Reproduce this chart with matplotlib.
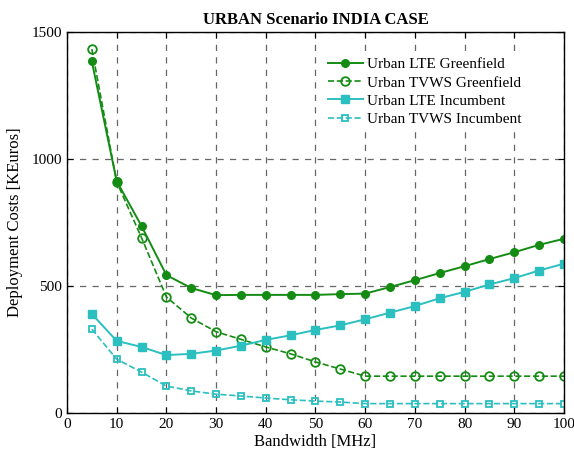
import matplotlib
matplotlib.use("Agg")
import matplotlib.pyplot as plt

bandwidth = [5, 10, 15, 20, 25, 30, 35, 40, 45, 50, 55, 60, 65, 70, 75, 80, 85, 90, 95, 100]

lte_greenfield = [1384, 913, 736, 543, 492, 464, 465, 465, 465, 465, 468, 470,
                  496, 523, 551, 578, 606, 633, 662, 686]
tvws_greenfield = [1433, 910, 690, 457, 374, 320, 290, 260, 233, 201, 173, 145,
                   145, 145, 145, 145, 145, 145, 145, 145]
lte_incumbent = [390, 284, 260, 228, 233, 246, 265, 288, 306, 327, 345, 369,
                 395, 421, 452, 477, 506, 531, 561, 588]
tvws_incumbent = [330, 212, 161, 106, 87, 74, 67, 59, 52, 47, 43, 37,
                  37, 37, 37, 37, 37, 37, 37, 37]

green = "#148c14"
cyan = "#2bbfbf"

plt.rcParams["font.family"] = ["Liberation Serif", "DejaVu Serif"]
plt.rcParams["mathtext.fontset"] = "stix"

fig = plt.figure(figsize=(5.74, 4.54), dpi=100)
ax = fig.add_axes([0.1167, 0.0903, 0.8659, 0.8392])

ax.plot(bandwidth, lte_greenfield, "-", color=green, marker="o", ms=5.5,
        lw=1.4, label="Urban LTE Greenfield")
ax.plot(bandwidth, tvws_greenfield, "--", color=green, marker="o", ms=6.2,
        mfc="none", mew=1.3, lw=1.2, label="Urban TVWS Greenfield")
ax.plot(bandwidth, lte_incumbent, "-", color=cyan, marker="s", ms=5.5,
        lw=1.4, label="Urban LTE Incumbent")
ax.plot(bandwidth, tvws_incumbent, "--", color=cyan, marker="s", ms=4.8,
        mfc="none", mew=1.3, lw=1.2, label="Urban TVWS Incumbent")

ax.set_xlim(0, 100)
ax.set_ylim(0, 1500)
ax.set_xticks(range(0, 101, 10))
ax.set_yticks([0, 500, 1000, 1500])
ax.grid(True, linestyle=(0, (5, 5)), color="#666666", lw=0.9)
ax.tick_params(direction="in", labelsize=11, length=4, top=True, right=True)
for s in ax.spines.values():
    s.set_linewidth(1.0)

ax.set_xlabel("Bandwidth [MHz]", fontsize=12, labelpad=2)
ax.set_ylabel("Deployment Costs [KEuros]", fontsize=12, labelpad=6)
ax.set_title("URBAN Scenario INDIA CASE", fontsize=12, fontweight="bold", pad=6)

leg = ax.legend(loc="upper right", bbox_to_anchor=(0.94, 0.965), fontsize=11,
                frameon=True, framealpha=1, edgecolor="none", fancybox=False,
                handlelength=2.3, handletextpad=0.3, labelspacing=0.3,
                borderpad=0.3)

fig.savefig("out.png", dpi=100)
